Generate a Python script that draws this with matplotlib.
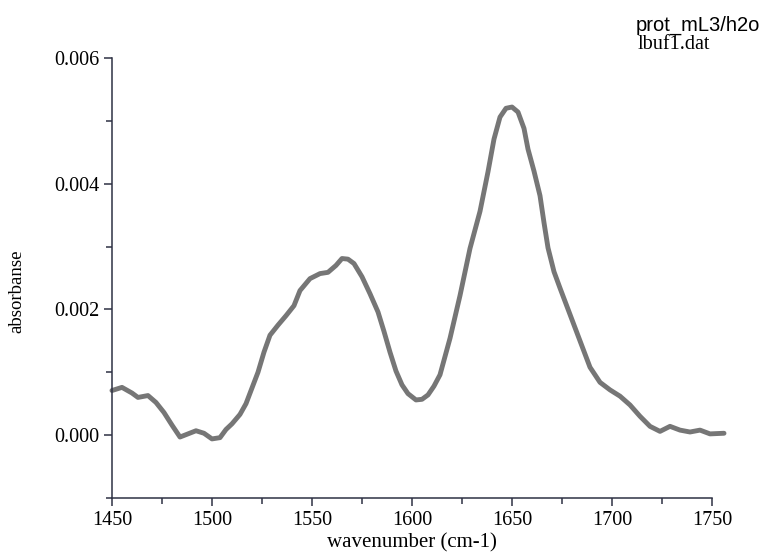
import matplotlib
matplotlib.use("Agg")
import matplotlib.pyplot as plt
from matplotlib.ticker import MultipleLocator, FormatStrFormatter

# absorbance spectrum, amide I / amide II region
wavenumber = [1450, 1455, 1460, 1463, 1468, 1472, 1476, 1480, 1484, 1488,
              1492, 1496, 1500, 1504, 1507, 1510, 1514, 1517, 1520, 1523,
              1526, 1529, 1533, 1537, 1541, 1544, 1549, 1554, 1558, 1562,
              1565, 1568, 1571, 1575, 1579, 1583, 1586, 1589, 1592, 1595,
              1598, 1602, 1605, 1608, 1611, 1614, 1619, 1624, 1629, 1634,
              1638, 1641, 1644, 1647, 1650, 1653, 1656, 1658, 1661, 1664,
              1666, 1668, 1671, 1674, 1679, 1684, 1689, 1694, 1699, 1704,
              1709, 1714, 1719, 1724, 1729, 1734, 1739, 1744, 1749, 1756]
absorb = [0.00071, 0.00076, 0.00067, 0.00060, 0.00063, 0.00052, 0.00036, 0.00016, -0.00003, 0.00002,
          0.00007, 0.00003, -0.00006, -0.00004, 0.00009, 0.00018, 0.00033, 0.00050, 0.00075, 0.00100,
          0.00132, 0.00159, 0.00175, 0.00190, 0.00206, 0.00230, 0.00249, 0.00257, 0.00259, 0.00270,
          0.00281, 0.00280, 0.00273, 0.00252, 0.00225, 0.00196, 0.00165, 0.00132, 0.00102, 0.00080,
          0.00066, 0.00056, 0.00057, 0.00064, 0.00078, 0.00096, 0.00154, 0.00222, 0.00297, 0.00356,
          0.00419, 0.00471, 0.00506, 0.00520, 0.00522, 0.00514, 0.00488, 0.00455, 0.00420, 0.00381,
          0.00338, 0.00298, 0.00260, 0.00234, 0.00192, 0.00150, 0.00108, 0.00084, 0.00072, 0.00062,
          0.00048, 0.00030, 0.00014, 0.00006, 0.00014, 0.00008, 0.00005, 0.00008, 0.00002, 0.00003]

plt.rcParams['font.family'] = ['Liberation Serif', 'DejaVu Serif']
axcol = '#2e3244'

fig = plt.figure(figsize=(7.68, 5.55), dpi=100)
ax = fig.add_axes([0.1458, 0.1027, 0.7813, 0.7928])

ax.plot(wavenumber, absorb, color='#767676', lw=3.5, solid_capstyle='round',
        solid_joinstyle='round', clip_on=False)

ax.set_xlim(1450, 1750)
ax.set_ylim(-0.001, 0.006)
ax.xaxis.set_major_locator(MultipleLocator(50))
ax.xaxis.set_minor_locator(MultipleLocator(25))
ax.yaxis.set_major_locator(MultipleLocator(0.002))
ax.yaxis.set_minor_locator(MultipleLocator(0.001))
ax.yaxis.set_major_formatter(FormatStrFormatter('%.3f'))

for s in ['top', 'right']:
    ax.spines[s].set_visible(False)
for s in ['left', 'bottom']:
    ax.spines[s].set_color(axcol)
    ax.spines[s].set_linewidth(1.1)
ax.tick_params(which='major', length=6, width=1.1, color=axcol, labelsize=14.5, pad=3)
ax.tick_params(which='minor', length=4, width=1.1, color=axcol)

ax.set_xlabel('wavenumber (cm-1)', fontsize=15, labelpad=3)
ax.set_ylabel('absorbanse', fontsize=13.5)
ax.yaxis.set_label_coords(-0.145, 0.47)

fig.text(0.828, 0.945, 'prot_mL3/h2o', family=['Liberation Sans', 'DejaVu Sans'],
         fontsize=14.5, va='baseline', ha='left')
fig.text(0.830, 0.912, 'lbuf1.dat', fontsize=14.5, va='baseline', ha='left')

fig.savefig('out.png', dpi=100)
